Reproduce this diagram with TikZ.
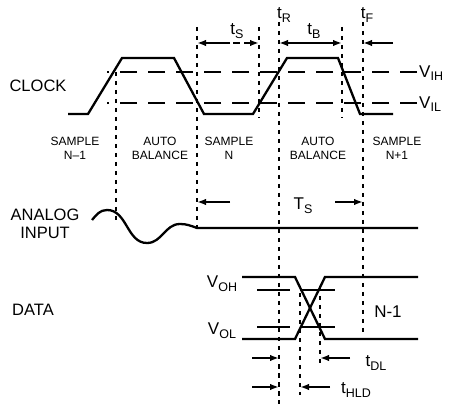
\documentclass[tikz,border=0pt]{standalone}
\usepackage{fontspec}
\setmainfont{Liberation Sans}
\usetikzlibrary{arrows.meta}
\newcommand\sy[2]{#1\raisebox{-0.4ex}{\fontsize{12.5}{12.5}\selectfont #2}}

\begin{document}
\begin{tikzpicture}[x=1pt,y=-1pt,
    wave/.style={line width=2.3pt},
    level/.style={line width=2pt,dash pattern=on 17pt off 11pt},
    guide/.style={line width=2pt,dash pattern=on 4.5pt off 4.5pt},
    tick/.style={line width=1.8pt,-{Latex[length=9pt,width=6.5pt]}},
    big/.style={font=\fontsize{16.5}{18}\selectfont,align=center,inner sep=0pt},
    small/.style={font=\fontsize{12}{14}\selectfont,align=center,inner sep=0pt},
    sym/.style={font=\fontsize{17}{18}\selectfont,inner sep=0pt}]
    \useasboundingbox (0,0) rectangle (451,404);
    % clock
    \draw[wave] (68,114) -- (88,114) -- (122,58) -- (174,58) -- (204,114) -- (253,114)
        -- (287,58) -- (338,58) -- (360,114) -- (393,114);
    \draw[level] (417,72) -- (107,72);
    \draw[level] (417,103) -- (107,103);
    \node[sym,anchor=west] (vih) at (419,73) {\sy{V}{IH}};
    \node[sym,anchor=west] (vil) at (419,104) {\sy{V}{IL}};
    % guides
    \draw[guide] (116,72) -- (116,222);
    \draw[guide] (197,27) -- (197,233);
    \draw[guide] (259,27) -- (259,118);
    \draw[guide] (279,22) -- (279,404);
    \draw[guide] (342,27) -- (342,118);
    \draw[guide] (363,22) -- (363,333);
    \draw[guide] (300,293) -- (300,395);
    \draw[guide] (320,287) -- (320,368);
    % timing arrows
    \draw[tick] (230,43) -- (197,43);
    \draw[tick,dash pattern=on 7pt off 4pt] (222,43) -- (259,43);
    \draw[tick,{Latex[length=9pt,width=6.5pt]}-{Latex[length=9pt,width=6.5pt]}] (279,43) -- (342,43);
    \draw[tick] (393,43) -- (363,43);
    \node[sym] (ts) at (237,31) {\sy{t}{S}};
    \node[sym] (tr) at (284,15) {\sy{t}{R}};
    \node[sym] (tb) at (314,31) {\sy{t}{B}};
    \node[sym] (tf) at (367,15) {\sy{t}{F}};
    % phases
    \node[big] (clock) at (38,86) {CLOCK};
    \node[small] (sn1) at (75,148) {SAMPLE\\N--1};
    \node[small] (ab1) at (160,148) {AUTO\\BALANCE};
    \node[small] (sn) at (229,148) {SAMPLE\\N};
    \node[small] (ab2) at (318,148) {AUTO\\BALANCE};
    \node[small] (sn2) at (397,148) {SAMPLE\\N+1};
    % analog input
    \node[big] (analog) at (45,224) {ANALOG\\INPUT};
    \draw[wave] (92,220) to[out=50,in=180] (107,210) to[out=0,in=180] (147,243)
        to[out=0,in=180] (180,224) to[out=0,in=160] (197,228) -- (418,228);
    \draw[tick] (230,202) -- (197,202);
    \draw[tick] (335,202) -- (363,202);
    \node[sym] (tsp) at (303,206) {\sy{T}{S}};
    % data
    \node[big] (data) at (33,310) {DATA};
    \draw[wave] (242,277) -- (295,277) -- (325,339) -- (418,339);
    \draw[wave] (242,339) -- (295,339) -- (325,277) -- (418,277);
    \draw[line width=1.8pt] (257,290) -- (290,290) (300,290) -- (335,290);
    \draw[line width=1.8pt] (257,327) -- (290,327) (300,327) -- (335,327);
    \node[sym] (voh) at (222,284) {\sy{V}{OH}};
    \node[sym] (vol) at (222,331) {\sy{V}{OL}};
    \node[sym] (n1) at (388,312) {N-1};
    \draw[tick] (252,358) -- (279,358);
    \draw[tick] (350,358) -- (320,358);
    \node[sym] (tdl) at (376,363) {\sy{t}{DL}};
    \draw[tick] (252,387) -- (279,387);
    \draw[tick] (330,387) -- (300,387);
    \node[sym] (thld) at (356,390) {\sy{t}{HLD}};
\end{tikzpicture}
\end{document}
